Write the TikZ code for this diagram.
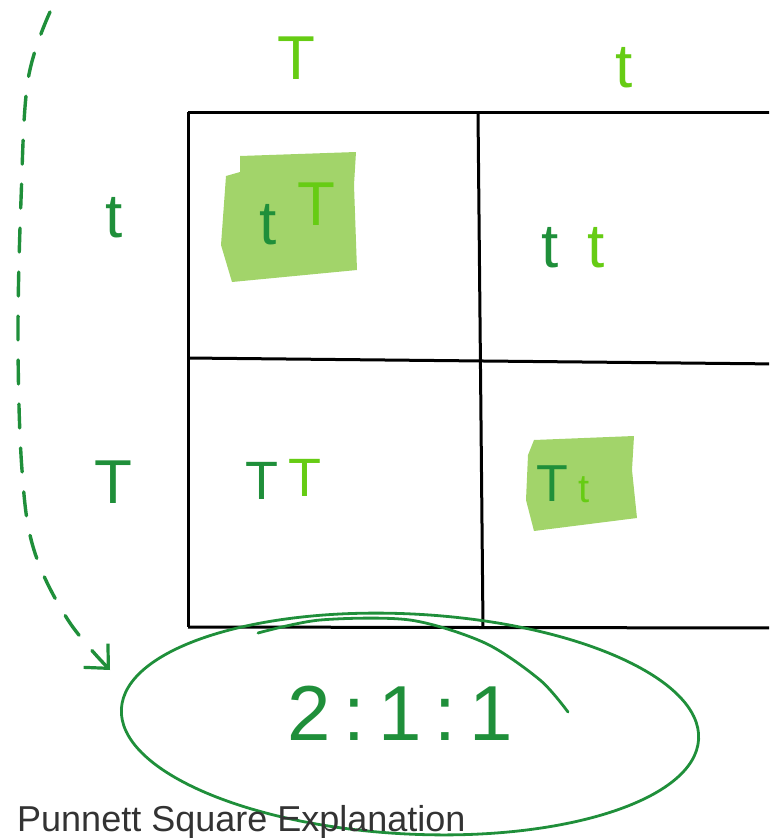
\documentclass[tikz,border=0pt]{standalone}
\usepackage{fontspec}
\setmainfont{Liberation Sans}
\usetikzlibrary{arrows.meta}
\definecolor{dkg}{HTML}{1F8F3A}
\definecolor{ltg}{HTML}{66CC14}
\definecolor{hl}{HTML}{A2D46A}
\definecolor{cap}{HTML}{333333}
\tikzset{
  gridline/.style={line width=3pt, black},
  dk/.style={text=dkg, inner sep=0pt, font=\fontsize{62}{62}\selectfont},
  lt/.style={text=ltg, inner sep=0pt, font=\fontsize{62}{62}\selectfont},
  hlbox/.style={fill=hl, draw=none},
  pen/.style={draw=dkg, line width=2.8pt, line cap=round},
}
\begin{document}
\begin{tikzpicture}[x=1pt,y=-1pt]
\useasboundingbox (0,0) rectangle (769,838);
\clip (0,0) rectangle (769,838);
% highlights
\fill[hlbox] (240,156) -- (356,152) -- (354,185) -- (357,270) -- (232,282) -- (221,245) -- (226,176) -- (240,172) -- cycle;
\fill[hlbox] (534,440) -- (634,436) -- (632,470) -- (637,518) -- (534,531) -- (526,500) -- (528,455) -- cycle;
% grid
\draw[gridline] (188,112) -- (780,112);
\draw[gridline] (188,627) -- (780,628);
\draw[gridline] (188,112) -- (188,627);
\draw[gridline] (478,112) -- (483,627);
\draw[gridline] (188,358) -- (780,364);
% headers
\node[lt] (hT) at (296,58) {T};
\node[lt] (ht) at (624,68) {t};
\node[dk] (rt) at (114,218) {t};
\node[dk] (rT) at (113,482) {T};
% cells
\node[dk] (c1a) at (268,225) {t};
\node[lt] (c1b) at (316,204) {T};
\node[dk] (c2a) at (550,248) {t};
\node[lt] (c2b) at (596,248) {t};
\node[dk, font=\fontsize{54}{54}\selectfont] (c3a) at (262,481) {T};
\node[lt, font=\fontsize{54}{54}\selectfont] (c3b) at (305,478) {T};
\node[dk, font=\fontsize{52}{52}\selectfont] (c4a) at (552,484) {T};
\node[lt, font=\fontsize{40}{40}\selectfont] (c4b) at (584,490) {t};
% ratio
\node[dk, font=\fontsize{78}{78}\selectfont] (ratio) at (400,713) {2\,:\,1\,:\,1};
\draw[pen, rotate around={-3:(410,724)}] (410,724) ellipse [x radius=289, y radius=110];
\draw[pen] plot[smooth] coordinates {(258,633) (320,620) (410,620) (485,643) (540,680) (568,712)};
% dashed arrow
\coordinate (as) at (50,12);
\coordinate (ae) at (110,670);
\draw[pen, line width=3.4pt, dash pattern=on 24pt off 20pt, -{Straight Barb[length=18pt,width=34pt,line width=3.2pt]}]
  plot[smooth, tension=0.6] coordinates {(as) (28,80) (21,200) (18,340) (22,470) (34,550) (68,620) (ae)};
% caption
\node[text=cap, font=\fontsize{36}{36}\selectfont, anchor=west, inner sep=0pt] (title) at (17,822) {Punnett Square Explanation};
\end{tikzpicture}
\end{document}
